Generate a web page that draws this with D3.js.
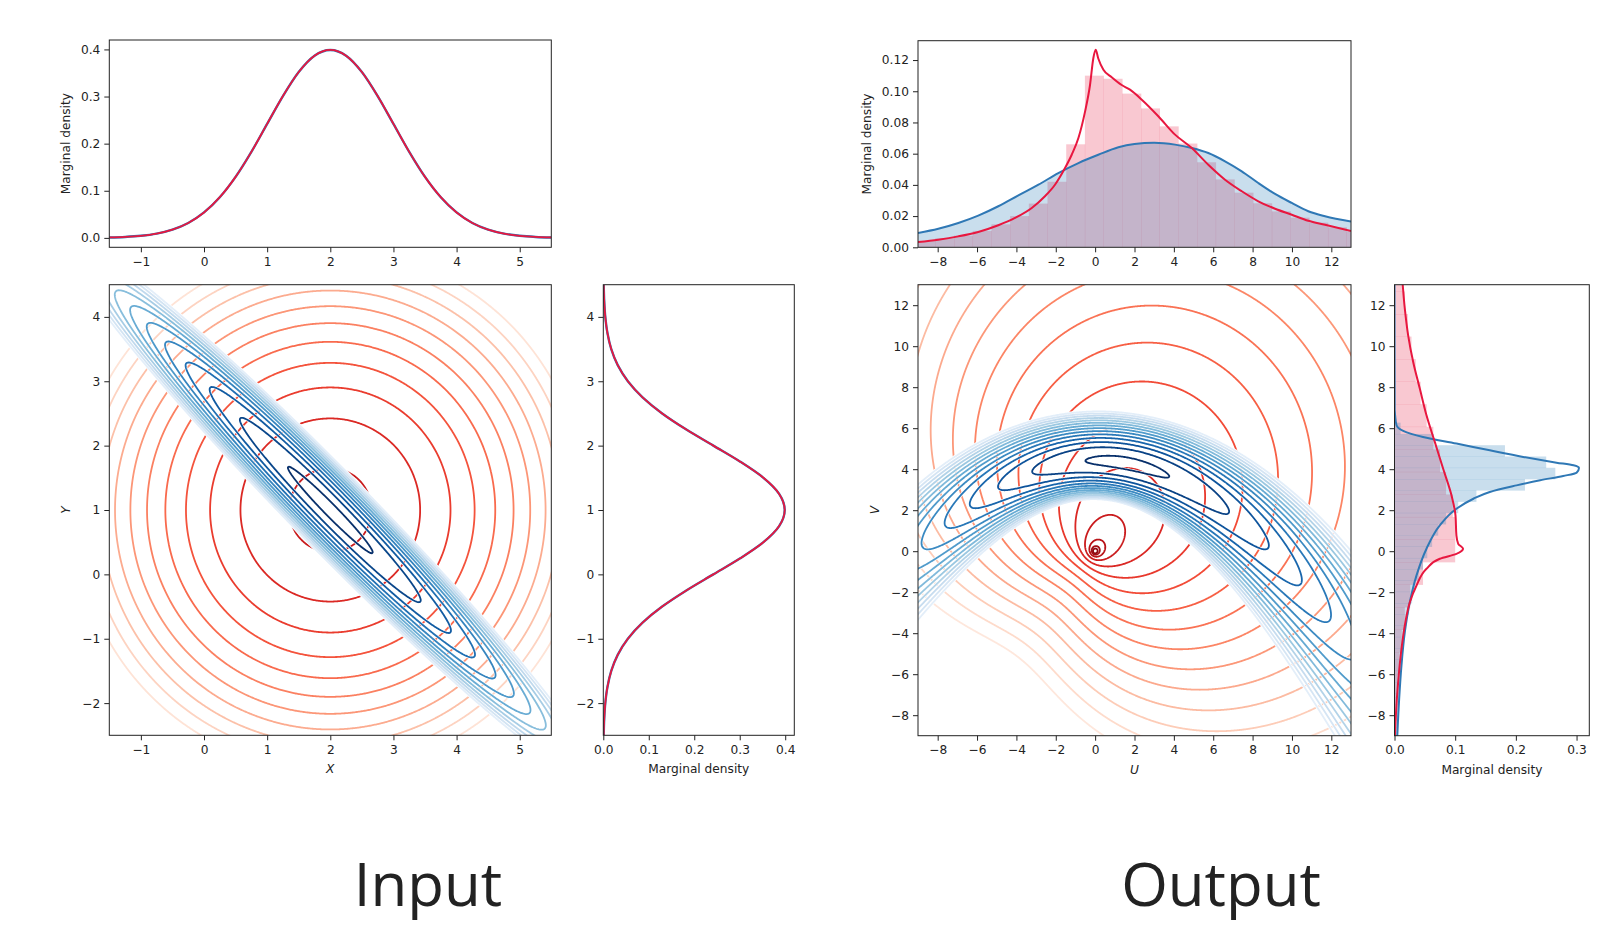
<!DOCTYPE html>
<html>
<head>
<meta charset="utf-8">
<script src="https://cdn.jsdelivr.net/npm/d3@7"></script>
<style>
  body { margin: 0; background: #fff; }
  svg text { font-family: "DejaVu Sans", sans-serif; }
</style>
</head>
<body>
<svg id="chart" width="1624" height="927"></svg>
<script>
// ---- data ----
const inputMean = [2, 1];
const inputRedCov = [1, 0, 1];        // var x, cov xy, var y
const inputBlueCov = [1, -0.98, 1];

// contour levels (log density), shared by both sets in a panel
const inputLevels = [-0.45, -1.25, -2.05, -2.85, -3.65, -4.45, -5.25, -6.05, -6.85, -7.65, -8.45, -9.25, -10.05];
const outputLevels = [-2.79, -3.28, -3.77, -4.26, -4.75, -5.24, -5.73, -6.22, -6.71, -7.20, -7.69, -8.18, -8.67, -9.16, -9.65, -10.14];

// input marginals (red and blue coincide)
const inputXMarginal = [
  [-1.5, 0.0009], [-1.25, 0.0020], [-1, 0.0044], [-0.75, 0.0091], [-0.5, 0.0175], [-0.25, 0.0317],
  [0, 0.0540], [0.25, 0.0863], [0.5, 0.1295], [0.75, 0.1826], [1, 0.2420], [1.25, 0.3011],
  [1.5, 0.3521], [1.75, 0.3867], [2, 0.3989], [2.25, 0.3867], [2.5, 0.3521], [2.75, 0.3011],
  [3, 0.2420], [3.25, 0.1826], [3.5, 0.1295], [3.75, 0.0863], [4, 0.0540], [4.25, 0.0317],
  [4.5, 0.0175], [4.75, 0.0091], [5, 0.0044], [5.25, 0.0020], [5.5, 0.0009]
];
const inputYMarginal = [
  [-2.5, 0.0009], [-2.25, 0.0020], [-2, 0.0044], [-1.75, 0.0091], [-1.5, 0.0175], [-1.25, 0.0317],
  [-1, 0.0540], [-0.75, 0.0863], [-0.5, 0.1295], [-0.25, 0.1826], [0, 0.2420], [0.25, 0.3011],
  [0.5, 0.3521], [0.75, 0.3867], [1, 0.3989], [1.25, 0.3867], [1.5, 0.3521], [1.75, 0.3011],
  [2, 0.2420], [2.25, 0.1826], [2.5, 0.1295], [2.75, 0.0863], [3, 0.0540], [3.25, 0.0317],
  [3.5, 0.0175], [3.75, 0.0091], [4, 0.0044], [4.25, 0.0020], [4.5, 0.0009]
];

// output U marginal curves, [u, density]
const outURed = [
  [-9, 0.0034], [-7.97, 0.0049], [-6.95, 0.0070], [-5.94, 0.0098], [-4.92, 0.0141], [-4.07, 0.0188],
  [-3.22, 0.0252], [-2.55, 0.0327], [-2.04, 0.0401], [-1.53, 0.0508], [-1.19, 0.0593], [-0.85, 0.0700],
  [-0.51, 0.0871], [-0.26, 0.1040], [-0.09, 0.1213], [0.03, 0.1266], [0.16, 0.1210], [0.42, 0.1138],
  [0.84, 0.1090], [1.35, 0.1040], [1.77, 0.1010], [2.37, 0.0946], [3.21, 0.0840], [4.06, 0.0722],
  [4.91, 0.0636], [5.75, 0.0529], [6.6, 0.0433], [7.45, 0.0359], [8.29, 0.0295], [9.14, 0.0247],
  [9.99, 0.0209], [10.83, 0.0170], [11.68, 0.0145], [13, 0.0105]
];
const outUBlue = [
  [-9, 0.0092], [-7.97, 0.0119], [-6.95, 0.0156], [-5.94, 0.0203], [-4.92, 0.0263], [-3.9, 0.0333],
  [-2.88, 0.0401], [-1.87, 0.0476], [-0.85, 0.0540], [0.16, 0.0593], [1.18, 0.0641], [2.0, 0.0662],
  [3.0, 0.0670], [4.06, 0.0658], [4.91, 0.0636], [5.75, 0.0604], [6.6, 0.0551], [7.45, 0.0487],
  [8.29, 0.0412], [9.14, 0.0342], [9.99, 0.0284], [10.83, 0.0231], [11.68, 0.0199], [13, 0.0166]
];
// output V marginal curves, [v, density]
const outVRed = [
  [13.13, 0.0132], [11.83, 0.0170], [10.53, 0.0225], [9.23, 0.0308], [7.92, 0.0418], [6.63, 0.0527],
  [5.32, 0.0665], [4.02, 0.0802], [2.72, 0.0940], [1.75, 0.1005], [0.77, 0.1020], [0.36, 0.1050],
  [0.12, 0.1130], [-0.13, 0.1020], [-0.37, 0.0747], [-0.86, 0.0527], [-1.67, 0.0363], [-2.49, 0.0253],
  [-3.62, 0.0170], [-4.77, 0.0115], [-6.39, 0.0060], [-8.02, 0.0022], [-9.16, 0.0005]
];
const outVBlue = [
  [13, 0], [6.9, 0.0003], [6.63, 0.0010], [6.14, 0.0033], [5.87, 0.0143], [5.57, 0.0470],
  [5.25, 0.1020], [4.92, 0.1570], [4.6, 0.2120], [4.32, 0.2670], [4.19, 0.2950], [4.06, 0.3040],
  [3.83, 0.3000], [3.67, 0.2780], [3.46, 0.2400], [3.21, 0.2010], [2.89, 0.1570], [2.56, 0.1300],
  [2.07, 0.1020], [1.26, 0.0747], [0.12, 0.0527], [-1.18, 0.0363], [-2.48, 0.0253], [-3.95, 0.0170],
  [-5.57, 0.0115], [-7.2, 0.0077], [-9.15, 0.0044]
];

// output histograms, [lo, hi, density]
const outURedHist = [
  [-9.07, -8.12, 0.0040], [-8.12, -7.17, 0.0058], [-7.17, -6.22, 0.0075], [-6.22, -5.27, 0.0105],
  [-5.27, -4.32, 0.0147], [-4.32, -3.37, 0.0200], [-3.37, -2.42, 0.0280], [-2.42, -1.47, 0.0420],
  [-1.47, -0.52, 0.0660], [-0.52, 0.43, 0.1100], [0.43, 1.38, 0.1080], [1.38, 2.33, 0.0985],
  [2.33, 3.28, 0.0890], [3.28, 4.23, 0.0775], [4.23, 5.18, 0.0665], [5.18, 6.13, 0.0545],
  [6.13, 7.08, 0.0435], [7.08, 8.03, 0.0350], [8.03, 8.98, 0.0282], [8.98, 9.93, 0.0230],
  [9.93, 10.88, 0.0190], [10.88, 11.83, 0.0158], [11.83, 12.78, 0.0128], [12.78, 13.73, 0.0100]
];
const outVRedHist = [
  [-9.33, -8.23, 0.0015], [-8.23, -7.13, 0.003], [-7.13, -6.03, 0.005], [-6.03, -4.93, 0.008],
  [-4.93, -3.83, 0.012], [-3.83, -2.73, 0.017], [-2.73, -1.63, 0.026], [-1.63, -0.53, 0.047],
  [-0.53, 0.57, 0.100], [0.57, 1.67, 0.100], [1.67, 2.77, 0.096], [2.77, 3.87, 0.085],
  [3.87, 4.97, 0.075], [4.97, 6.07, 0.064], [6.07, 7.17, 0.053], [7.17, 8.27, 0.043],
  [8.27, 9.37, 0.035], [9.37, 10.47, 0.028], [10.47, 11.57, 0.022], [11.57, 12.67, 0.017],
  [12.67, 13.77, 0.013]
];
const outVBlueHist = [
  [-9.13, -8.58, 0.005], [-8.58, -8.03, 0.006], [-8.03, -7.48, 0.007], [-7.48, -6.93, 0.008],
  [-6.93, -6.38, 0.009], [-6.38, -5.83, 0.010], [-5.83, -5.28, 0.011], [-5.28, -4.73, 0.013],
  [-4.73, -4.18, 0.015], [-4.18, -3.63, 0.017], [-3.63, -3.08, 0.020], [-3.08, -2.53, 0.024],
  [-2.53, -1.98, 0.029], [-1.98, -1.43, 0.034], [-1.43, -0.88, 0.040], [-0.88, -0.33, 0.047],
  [-0.33, 0.22, 0.054], [0.22, 0.77, 0.062], [0.77, 1.32, 0.072], [1.32, 1.87, 0.085],
  [1.87, 2.42, 0.105], [2.42, 2.97, 0.135], [2.97, 3.52, 0.215], [3.52, 4.07, 0.265],
  [4.07, 4.62, 0.250], [4.62, 5.17, 0.182], [5.17, 5.72, 0.065], [5.72, 6.27, 0.010],
  [6.27, 6.82, 0.002]
];

const inputTicks = [-1, 0, 1, 2, 3, 4, 5];
const inputYTicks = [-2, -1, 0, 1, 2, 3, 4];
const inputDensityTicks = [0, 0.1, 0.2, 0.3, 0.4];
const outputTicks = [-8, -6, -4, -2, 0, 2, 4, 6, 8, 10, 12];
const outUDensityTicks = [0, 0.02, 0.04, 0.06, 0.08, 0.10, 0.12];
const outVDensityTicks = [0, 0.1, 0.2, 0.3];

// ---- styles ----
const RED = '#e8173f';
const BLUE = '#2f78b5';
const FILL_BLUE = '#1f77b4';
const INK = '#222';
const FS = 12.2;

const svg = d3.select('#chart');
const defs = svg.append('defs');
let clipCount = 0;

function makeAxes(box, xd, yd) {
  const sx = d3.scaleLinear().domain(xd).range([box[0], box[1]]);
  const sy = d3.scaleLinear().domain(yd).range([box[3], box[2]]);
  const id = 'clip' + (clipCount++);
  defs.append('clipPath').attr('id', id).append('rect')
      .attr('x', box[0]).attr('y', box[2])
      .attr('width', box[1] - box[0]).attr('height', box[3] - box[2]);
  const g = svg.append('g');
  const plot = g.append('g').attr('clip-path', `url(#${id})`);
  return { sx, sy, g, plot, box };
}

function drawFrame(ax, xTicks, yTicks, xFmt, yFmt) {
  const { sx, sy, g, box } = ax;
  const xa = g.append('g').attr('transform', `translate(0,${box[3]})`)
      .call(d3.axisBottom(sx).tickValues(xTicks).tickFormat(xFmt).tickSize(5).tickPadding(5));
  const ya = g.append('g').attr('transform', `translate(${box[0]},0)`)
      .call(d3.axisLeft(sy).tickValues(yTicks).tickFormat(yFmt).tickSize(5).tickPadding(4));
  [xa, ya].forEach(a => {
    a.select('.domain').remove();
    a.selectAll('line').attr('stroke', INK).attr('stroke-width', 1);
    a.selectAll('text').attr('fill', INK).attr('font-size', FS).attr('font-family', '"DejaVu Sans", sans-serif');
  });
  g.append('rect')
      .attr('x', box[0]).attr('y', box[2])
      .attr('width', box[1] - box[0]).attr('height', box[3] - box[2])
      .attr('fill', 'none').attr('stroke', INK).attr('stroke-width', 1);
}

function xLabel(ax, text, italic) {
  const { box } = ax;
  ax.g.append('text')
      .attr('x', (box[0] + box[1]) / 2).attr('y', box[3] + 38)
      .attr('text-anchor', 'middle').attr('font-size', FS).attr('fill', INK)
      .attr('font-style', italic ? 'italic' : null)
      .text(text);
}

function yLabel(ax, text, x, italic) {
  const { box } = ax;
  const cy = (box[2] + box[3]) / 2;
  ax.g.append('text')
      .attr('transform', `translate(${x},${cy}) rotate(-90)`)
      .attr('text-anchor', 'middle').attr('dy', '0.35em')
      .attr('font-size', FS).attr('fill', INK)
      .attr('font-style', italic ? 'italic' : null)
      .text(text);
}

// Log density of a bivariate normal.
function gaussLog(mean, cov) {
  const [a, b, c] = cov;
  const det = a * c - b * b;
  const k = -Math.log(2 * Math.PI) - 0.5 * Math.log(det);
  return (x, y) => {
    const dx = x - mean[0], dy = y - mean[1];
    return k - 0.5 * (c * dx * dx - 2 * b * dx * dy + a * dy * dy) / det;
  };
}

// Push a density through w = z^2 (U = X^2 - Y^2, V = 2XY).
function squaredLog(inLog) {
  return (u, v) => {
    const r = Math.max(Math.hypot(u, v), 1e-9);
    const s = Math.sqrt(r), th = Math.atan2(v, u) / 2;
    const x = s * Math.cos(th), y = s * Math.sin(th);
    const l1 = inLog(x, y), l2 = inLog(-x, -y);
    const m = Math.max(l1, l2);
    return m + Math.log(Math.exp(l1 - m) + Math.exp(l2 - m)) - Math.log(4 * r);
  };
}

// Contour lines of a log density, sampled on a pixel grid that spills past the
// axes; the grid border is forced low so every ring closes outside the clip.
// vRange picks the levels drawn and maps them onto tRange of the colour ramp.
function drawContours(ax, logDensity, levels, interp, vRange, tRange, opts = {}) {
  const cell = opts.cell || 1;
  const { sx, sy, box } = ax;
  const px0 = box[0] - 4, py0 = box[2] - 4;
  const nx = Math.ceil((box[1] - box[0] + 8) / cell);
  const ny = Math.ceil((box[3] - box[2] + 8) / cell);
  const values = new Float64Array(nx * ny);
  for (let j = 0; j < ny; j++) {
    const y = sy.invert(py0 + (j + 0.5) * cell);
    for (let i = 0; i < nx; i++) {
      if (i === 0 || j === 0 || i === nx - 1 || j === ny - 1) { values[j * nx + i] = -1e3; continue; }
      values[j * nx + i] = logDensity(sx.invert(px0 + (i + 0.5) * cell), y);
    }
  }
  const sets = d3.contours().size([nx, ny]).thresholds(levels)(values)
      .filter(d => d.value >= vRange[1] - 1e-9 && d.coordinates.length);
  const path = d3.geoPath(d3.geoIdentity().scale(cell).translate([px0, py0]));
  const tOf = d3.scaleLinear().domain(vRange).range(tRange).clamp(true);
  const g = ax.plot.append('g').attr('fill', 'none').attr('stroke-linejoin', 'round');
  if (opts.underlay) {
    g.append('g').selectAll('path').data(sets).join('path')
        .attr('d', path).attr('stroke', '#fff').attr('stroke-width', opts.underlay);
  }
  g.append('g').selectAll('path').data(sets).join('path')
      .attr('d', path)
      .attr('stroke', d => interp(tOf(d.value)))
      .attr('stroke-width', opts.width || 1.8);
}

function hLine(ax, data, color, width) {
  ax.plot.append('path').datum(data)
      .attr('fill', 'none').attr('stroke', color).attr('stroke-width', width)
      .attr('d', d3.line().x(d => ax.sx(d[0])).y(d => ax.sy(d[1])).curve(d3.curveMonotoneX));
}

function hArea(ax, data, color, opacity) {
  ax.plot.append('path').datum(data)
      .attr('fill', color).attr('fill-opacity', opacity)
      .attr('d', d3.area().x(d => ax.sx(d[0])).y0(ax.sy(0)).y1(d => ax.sy(d[1])).curve(d3.curveMonotoneX));
}

function vLine(ax, data, color, width) {
  ax.plot.append('path').datum(data)
      .attr('fill', 'none').attr('stroke', color).attr('stroke-width', width)
      .attr('d', d3.line().x(d => ax.sx(d[1])).y(d => ax.sy(d[0])).curve(d3.curveMonotoneY));
}

function hHist(ax, bins, color, opacity) {
  ax.plot.append('g').selectAll('rect').data(bins).join('rect')
      .attr('x', d => ax.sx(d[0])).attr('width', d => ax.sx(d[1]) - ax.sx(d[0]) + 0.3)
      .attr('y', d => ax.sy(d[2])).attr('height', d => ax.sy(0) - ax.sy(d[2]))
      .attr('fill', color).attr('fill-opacity', opacity);
}

function vHist(ax, bins, color, opacity) {
  ax.plot.append('g').selectAll('rect').data(bins).join('rect')
      .attr('y', d => ax.sy(d[1])).attr('height', d => ax.sy(d[0]) - ax.sy(d[1]) + 0.3)
      .attr('x', ax.sx(0)).attr('width', d => ax.sx(d[2]) - ax.sx(0))
      .attr('fill', color).attr('fill-opacity', opacity);
}

const fInt = d3.format('d');
const f1 = d3.format('.1f');
const f2 = d3.format('.2f');

// ---- Input ----
const inTop = makeAxes([109.3, 551.3, 40, 247.3], [-1.5, 5.5], [-0.02, 0.42]);
hLine(inTop, inputXMarginal, BLUE, 2.4);
hLine(inTop, inputXMarginal, RED, 1.8);
drawFrame(inTop, inputTicks, inputDensityTicks, fInt, f1);
yLabel(inTop, 'Marginal density', 66);

const inMain = makeAxes([109.3, 551.3, 284.7, 735.3], [-1.5, 5.5], [-2.5, 4.5]);
drawContours(inMain, gaussLog(inputMean, inputRedCov), inputLevels, d3.interpolateReds,
    [-2.05, -10.05], [0.76, 0.1]);
drawContours(inMain, gaussLog(inputMean, inputBlueCov), inputLevels, d3.interpolateBlues,
    [-0.45, -9.25], [1.0, 0.1], { underlay: 3.2 });
drawFrame(inMain, inputTicks, inputYTicks, fInt, fInt);
xLabel(inMain, 'X', true);
yLabel(inMain, 'Y', 66, true);

const inRight = makeAxes([603.3, 794.3, 284.7, 735.3], [0, 0.42], [-2.5, 4.5]);
vLine(inRight, inputYMarginal, BLUE, 2.4);
vLine(inRight, inputYMarginal, RED, 1.8);
drawFrame(inRight, inputDensityTicks, inputYTicks, f1, fInt);
xLabel(inRight, 'Marginal density');

// ---- Output ----
const outTop = makeAxes([918, 1351, 40.7, 247.3], [-9, 13], [0, 0.1324]);
hHist(outTop, outURedHist, RED, 0.24);
hArea(outTop, outUBlue, FILL_BLUE, 0.24);
hLine(outTop, outUBlue, BLUE, 2);
hLine(outTop, outURed, RED, 2);
drawFrame(outTop, outputTicks, outUDensityTicks, fInt, f2);
yLabel(outTop, 'Marginal density', 866.7);

const outMain = makeAxes([918, 1351, 284.7, 735.7], [-9, 13], [-9, 13]);
drawContours(outMain, squaredLog(gaussLog(inputMean, inputRedCov)), outputLevels, d3.interpolateReds,
    [-2.79, -10.14], [0.92, 0.08], { cell: 0.6 });
drawContours(outMain, squaredLog(gaussLog(inputMean, inputBlueCov)), outputLevels, d3.interpolateBlues,
    [-3.28, -9.65], [1.0, 0.1], { underlay: 3.2 });
drawFrame(outMain, outputTicks, outputTicks, fInt, fInt);
xLabel(outMain, 'U', true);
yLabel(outMain, 'V', 875, true);

const outRight = makeAxes([1394.5, 1589.3, 284.7, 735.7], [0, 0.321], [-9, 13]);
vHist(outRight, outVRedHist, RED, 0.24);
vHist(outRight, outVBlueHist, FILL_BLUE, 0.24);
vLine(outRight, outVBlue, BLUE, 2);
vLine(outRight, outVRed, RED, 2);
drawFrame(outRight, outVDensityTicks, outputTicks, f1, fInt);
xLabel(outRight, 'Marginal density');

// ---- captions ----
svg.append('g')
    .attr('font-size', 60).attr('fill', INK).attr('text-anchor', 'middle')
  .selectAll('text')
  .data([['Input', 428], ['Output', 1221]])
  .join('text')
    .style('font-family', '"Open Sans", sans-serif')
    .attr('x', d => d[1]).attr('y', 906)
    .text(d => d[0]);
</script>
</body>
</html>
